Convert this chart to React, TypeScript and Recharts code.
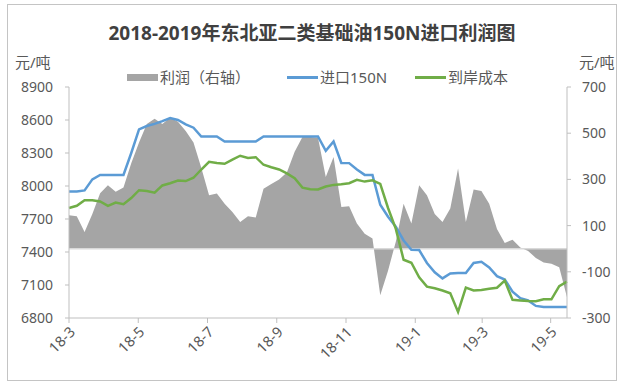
import { ComposedChart, Area, Line, XAxis, YAxis, ReferenceLine, Legend } from 'recharts';

// weekly points, Mar 2018 - May 2019
const profit = [
  145, 140, 72, 150, 240, 275, 246, 265, 370, 460, 540, 563, 540, 568, 550, 510,
  460, 350, 231, 239, 195, 159, 116, 140, 135, 260, 280, 300, 330, 420, 484, 484,
  480, 310, 397, 180, 184, 109, 65, 44, -202, -95, 30, 195, 109, 275, 231, 150,
  116, 174, 347, 116, 256, 250, 195, 85, 25, 39, 5, -10, -40, -60, -65, -80, -210,
];
const import150N = [
  7950, 7950, 7960, 8060, 8100, 8100, 8100, 8100, 8300, 8515, 8545, 8565, 8590, 8618, 8600, 8560,
  8530, 8450, 8450, 8450, 8405, 8405, 8405, 8405, 8405, 8451, 8451, 8451, 8451, 8451, 8451, 8451,
  8451, 8320, 8405, 8210, 8208, 8150, 8101, 8101, 7830, 7720, 7630, 7505, 7420, 7418, 7300, 7215,
  7160, 7205, 7210, 7210, 7300, 7311, 7260, 7180, 7150, 7040, 6980, 6960, 6910, 6900, 6900, 6900, 6900,
];
const landedCost = [
  7800, 7820, 7870, 7870, 7860, 7820, 7850, 7835, 7890, 7962, 7955, 7940, 8005, 8025, 8050, 8045,
  8075, 8150, 8220, 8210, 8202, 8240, 8275, 8255, 8262, 8193, 8170, 8150, 8115, 8070, 7985, 7970,
  7968, 7995, 8010, 8015, 8025, 8056, 8040, 8052, 8020, 7800, 7610, 7330, 7302, 7170, 7085, 7070,
  7050, 7025, 6855, 7077, 7050, 7055, 7065, 7075, 7140, 6965, 6960, 6955, 6952, 6970, 6970, 7090, 7130,
];
const monthLabels = ['18-3', '18-5', '18-7', '18-9', '18-11', '19-1', '19-3', '19-5'];
const monthTicks = [0, 8.9, 17.8, 26.7, 35.6, 44.5, 53.1, 61.9];
const leftTicks = [6800, 7100, 7400, 7700, 8000, 8300, 8600, 8900];
const rightTicks = [-300, -100, 100, 300, 500, 700];

const data = profit.map((p, i) => ({
  k: i,
  profit: p,
  import150N: import150N[i],
  landedCost: landedCost[i],
}));

const font = '"Noto Sans", "Noto Sans CJK SC", sans-serif';
const gray = '#595959';

const MonthTick = ({ x, y, payload }: any) => {
  const idx = monthTicks.indexOf(payload.value);
  return (
    <g transform={`translate(${x + 7},${y + 8})`}>
      <text x={0} y={0} textAnchor="end" transform="rotate(-45)" fill={gray} fontSize={14.5} fontFamily={font}>
        {monthLabels[idx]}
      </text>
    </g>
  );
};

const LegendBox = () => (
  <div style={{ position: 'relative', height: 22, fontFamily: font, fontSize: 15, color: gray }}>
    <div style={{ position: 'absolute', left: 127, top: 8, width: 31, height: 7, background: '#a5a5a5' }} />
    <span style={{ position: 'absolute', left: 160, top: 0 }}>利润（右轴）</span>
    <div style={{ position: 'absolute', left: 287, top: 10, width: 31, height: 2.5, background: '#5b9bd5' }} />
    <span style={{ position: 'absolute', left: 320, top: 0 }}>进口150N</span>
    <div style={{ position: 'absolute', left: 415, top: 10, width: 31, height: 2.5, background: '#70ad47' }} />
    <span style={{ position: 'absolute', left: 448, top: 0 }}>到岸成本</span>
  </div>
);

export default function App() {
  return (
    <div style={{ position: 'absolute', left: 0, top: 0, width: 624, height: 388, background: '#fff', fontFamily: font }}>
      <div style={{ position: 'absolute', left: 7, top: 4, width: 608, height: 375, border: '1.5px solid #c4c4c4' }} />
      <div style={{ position: 'absolute', left: 0, top: 18, width: 624, textAlign: 'center', fontSize: 19, fontWeight: 'bold', color: '#404040' }}>
        2018-2019年东北亚二类基础油150N进口利润图
      </div>
      <div style={{ position: 'absolute', left: 15, top: 51, fontSize: 15, color: gray }}>元/吨</div>
      <div style={{ position: 'absolute', left: 579, top: 51, fontSize: 15, color: gray }}>元/吨</div>
      <ComposedChart
        width={624}
        height={388}
        data={data}
        margin={{ top: 87, right: 0, bottom: 0, left: 0 }}
        style={{ position: 'absolute', left: 0, top: 0 }}
      >
        <XAxis
          dataKey="k"
          type="number"
          domain={[0, 64]}
          ticks={monthTicks}
          interval={0}
          height={70}
          tick={<MonthTick />}
          tickSize={5}
          stroke="#bfbfbf"
          axisLine={{ stroke: '#bfbfbf' }}
          tickLine={{ stroke: '#bfbfbf' }}
        />
        <YAxis
          yAxisId="left"
          domain={[6800, 8900]}
          ticks={leftTicks}
          interval={0}
          width={69}
          tickSize={4}
          tickMargin={12}
          tick={{ fill: gray, fontSize: 14, fontFamily: font }}
          axisLine={{ stroke: '#bfbfbf' }}
          tickLine={{ stroke: '#bfbfbf' }}
        />
        <YAxis
          yAxisId="right"
          orientation="right"
          domain={[-300, 700]}
          ticks={rightTicks}
          interval={0}
          width={57}
          tickSize={4}
          tickMargin={11}
          tick={{ fill: gray, fontSize: 14, fontFamily: font, textAnchor: 'start' }}
          axisLine={{ stroke: '#bfbfbf' }}
          tickLine={{ stroke: '#bfbfbf' }}
        />
        <Legend
          verticalAlign="middle"
          align="center"
          wrapperStyle={{ top: 66, left: 0, width: 624 }}
          content={<LegendBox />}
        />
        <Area
          yAxisId="right"
          dataKey="profit"
          name="利润（右轴）"
          type="linear"
          fill="#a5a5a5"
          fillOpacity={1}
          stroke="none"
          isAnimationActive={false}
        />
        <ReferenceLine yAxisId="right" y={0} stroke="#d9d9d9" strokeWidth={1.5} />
        <Line
          yAxisId="left"
          dataKey="import150N"
          name="进口150N"
          type="linear"
          stroke="#5b9bd5"
          strokeWidth={2.5}
          dot={false}
          isAnimationActive={false}
        />
        <Line
          yAxisId="left"
          dataKey="landedCost"
          name="到岸成本"
          type="linear"
          stroke="#70ad47"
          strokeWidth={2.5}
          dot={false}
          isAnimationActive={false}
        />
      </ComposedChart>
    </div>
  );
}
